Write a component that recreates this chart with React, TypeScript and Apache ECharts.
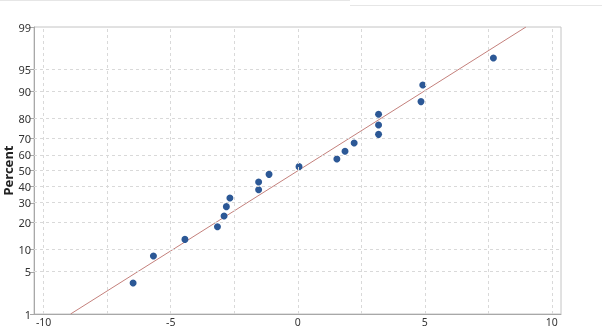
import React, { useEffect, useRef } from "react";
import * as echarts from "echarts";

// Observed values (x) and their plotted cumulative percents
const xValues = [-6.48, -5.68, -4.44, -3.16, -2.9, -2.81, -2.67, -1.54, -1.54, -1.13, 0.05, 1.54, 1.86, 2.22, 3.18, 3.18, 3.18, 4.85, 4.92, 7.7];
const percents = [3.4, 8.3, 13.2, 18.1, 23.0, 27.9, 32.8, 37.7, 42.6, 47.5, 52.5, 57.4, 62.3, 67.2, 72.1, 77.0, 81.9, 86.8, 91.7, 96.6];

// Fitted line endpoints
const fitX = [-8.94, 8.98];
const fitPct = [1, 99];

// Tick labels
const yTickPct = [1, 5, 10, 20, 30, 40, 50, 60, 70, 80, 90, 95, 99];
const xTickLabels = [-10, -5, 0, 5, 10];
const xGridValues = [-10, -7.5, -5, -2.5, 0, 2.5, 5, 7.5, 10];

// inverse standard normal CDF (Acklam) for the probability axis scale
function probit(p: number): number {
  const a = [-3.969683028665376e1, 2.209460984245205e2, -2.759285104469687e2, 1.38357751867269e2, -3.066479806614716e1, 2.506628277459239];
  const b = [-5.447609879822406e1, 1.615858368580409e2, -1.556989798598866e2, 6.680131188771972e1, -1.328068155288572e1];
  const c = [-7.784894002430293e-3, -3.223964580411365e-1, -2.400758277161838, -2.549732539343734, 4.374664141464968, 2.938163982698783];
  const d = [7.784695709041462e-3, 3.224671290700398e-1, 2.445134137142996, 3.754408661907416];
  const plow = 0.02425;
  const phigh = 1 - plow;
  let q: number, r: number;
  if (p < plow) {
    q = Math.sqrt(-2 * Math.log(p));
    return (((((c[0] * q + c[1]) * q + c[2]) * q + c[3]) * q + c[4]) * q + c[5]) / ((((d[0] * q + d[1]) * q + d[2]) * q + d[3]) * q + 1);
  }
  if (p <= phigh) {
    q = p - 0.5;
    r = q * q;
    return ((((((a[0] * r + a[1]) * r + a[2]) * r + a[3]) * r + a[4]) * r + a[5]) * q) / (((((b[0] * r + b[1]) * r + b[2]) * r + b[3]) * r + b[4]) * r + 1);
  }
  q = Math.sqrt(-2 * Math.log(1 - p));
  return -(((((c[0] * q + c[1]) * q + c[2]) * q + c[3]) * q + c[4]) * q + c[5]) / ((((d[0] * q + d[1]) * q + d[2]) * q + d[3]) * q + 1);
}
const z = (pct: number) => probit(pct / 100);

export default function App() {
  const ref = useRef<HTMLDivElement>(null);
  useEffect(() => {
    if (!ref.current) return;
    const chart = echarts.init(ref.current, null, { renderer: "svg" });
    const yTicksZ = yTickPct.map(z);
    const font = "'Noto Sans', sans-serif";
    const gridStyle = { color: "#d9d9d9", type: [3, 3] as any, width: 1 };
    chart.setOption({
      animation: false,
      textStyle: { fontFamily: font },
      graphic: [
        { type: "line", shape: { x1: 0, y1: 0.5, x2: 350, y2: 0.5 }, style: { stroke: "#e6e6e6", lineWidth: 1 } },
        { type: "line", shape: { x1: 350, y1: 5.5, x2: 602, y2: 5.5 }, style: { stroke: "#e6e6e6", lineWidth: 1 } },
      ],
      grid: {
        left: 34, top: 27, right: 41, bottom: 14,
        containLabel: false, outerBoundsMode: "none",
        show: true, borderColor: "#c4c4c4", borderWidth: 1, backgroundColor: "transparent",
      },
      xAxis: {
        type: "value",
        min: -10.38,
        max: 10.36,
        axisLine: { show: true, onZero: false, lineStyle: { color: "#a8a8a8" } },
        axisTick: { show: false, customValues: xTickLabels },
        axisLabel: { customValues: xTickLabels, color: "#333", fontSize: 10.5, lineHeight: 10, fontFamily: font, margin: 3 },
        splitLine: { show: false },
      },
      yAxis: {
        type: "value",
        min: z(1),
        max: z(99),
        name: "Percent",
        nameLocation: "middle",
        nameGap: 20,
        nameMoveOverlap: false,
        nameTextStyle: { fontSize: 13, fontWeight: "bold", color: "#222", fontFamily: font },
        axisLine: { show: true, onZero: false, lineStyle: { color: "#a8a8a8" } },
        axisTick: { show: true, length: 4, customValues: yTicksZ, lineStyle: { color: "#a8a8a8" } },
        axisLabel: {
          customValues: yTicksZ,
          color: "#333",
          fontSize: 11,
          fontFamily: font,
          margin: 3,
          formatter: (v: number) => {
            let best = yTickPct[0];
            let bd = Infinity;
            yTickPct.forEach((p) => {
              const dd = Math.abs(z(p) - v);
              if (dd < bd) { bd = dd; best = p; }
            });
            return String(best);
          },
        },
        splitLine: { show: false },
      },
      series: [
        {
          type: "scatter",
          data: [],
          z: 1,
          silent: true,
          markLine: {
            silent: true,
            symbol: "none",
            label: { show: false },
            lineStyle: gridStyle,
            data: [
              ...xGridValues.map((v) => ({ xAxis: v })),
              ...yTickPct.slice(1, -1).map((p) => ({ yAxis: z(p) })),
            ],
          },
        },
        {
          type: "line",
          data: fitX.map((x, i) => [x, z(fitPct[i])]),
          symbol: "none",
          z: 3,
          lineStyle: { color: "#c4807c", width: 1 },
        },
        {
          type: "scatter",
          data: xValues.map((x, i) => [x, z(percents[i])]),
          symbolSize: 7,
          z: 4,
          itemStyle: { color: "#2c5896", opacity: 1 },
        },
      ],
    });
    return () => chart.dispose();
  }, []);
  return <div ref={ref} style={{ position: "fixed", left: 0, top: 0, width: 602, height: 328 }} />;
}
